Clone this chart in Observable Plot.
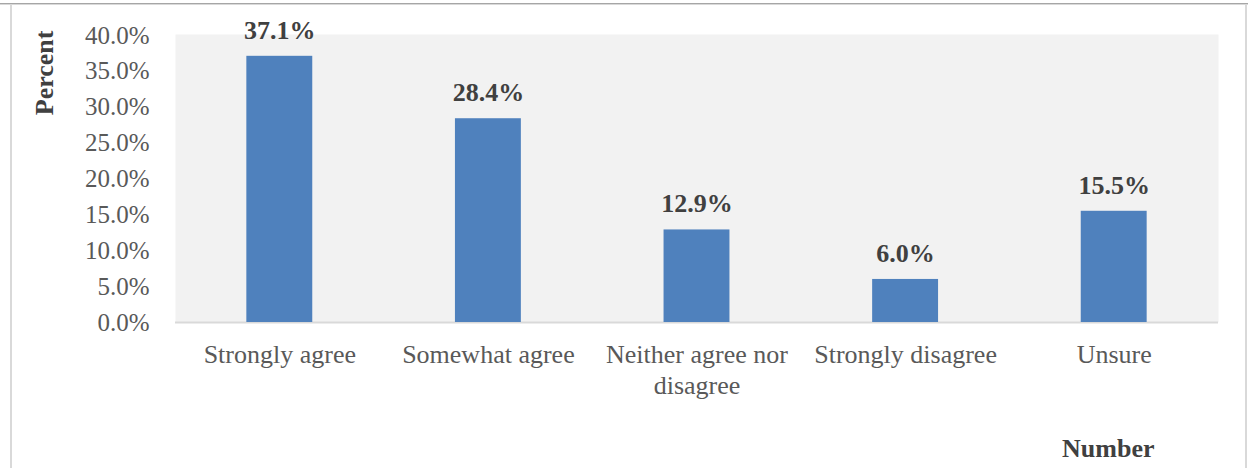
<!DOCTYPE html>
<html>
<head>
<meta charset="utf-8">
<script src="https://cdn.jsdelivr.net/npm/d3@7"></script>
<script src="https://cdn.jsdelivr.net/npm/@observablehq/plot@0.6"></script>
<style>
  html, body { margin: 0; padding: 0; background: #ffffff; }
  #wrap { position: relative; width: 1248px; height: 468px; overflow: hidden; }
  #wrap svg { position: absolute; left: 0; top: 0; }
  .bl { position: absolute; }
</style>
</head>
<body>
<div id="wrap">
  <div class="bl" style="left:0;top:3px;width:1248px;height:1px;background:#a6a6a6"></div>
  <div class="bl" style="left:0;top:4px;width:1248px;height:1px;background:#d9d9d9"></div>
  <div class="bl" style="left:10px;top:4px;width:2px;height:464px;background:#d9d9d9"></div>
  <div class="bl" style="left:1245px;top:4px;width:2px;height:464px;background:#d9d9d9"></div>
</div>
<script>
const categories = ["Strongly agree", "Somewhat agree", "Neither agree nor disagree", "Strongly disagree", "Unsure"];
const tickLabels = ["Strongly agree", "Somewhat agree", "Neither agree nor\ndisagree", "Strongly disagree", "Unsure"];
const percents = [37.1, 28.4, 12.9, 6.0, 15.5];
const yTicks = [0, 5, 10, 15, 20, 25, 30, 35, 40];
const yTitle = "Percent";
const xTitle = "Number";

const data = categories.map((c, i) => ({category: c, value: percents[i]}));
const labelOf = new Map(categories.map((c, i) => [c, tickLabels[i]]));
const serif = "'Liberation Serif', 'Times New Roman', serif";

const chart = Plot.plot({
  width: 1248,
  height: 468,
  marginLeft: 175,
  marginRight: 30,
  marginTop: 35,
  marginBottom: 146,
  style: {fontFamily: serif, fontSize: "26px", color: "#595959", background: "transparent"},
  x: {domain: categories, paddingInner: 0.684, paddingOuter: 0.342, round: false},
  y: {domain: [0, 40]},
  marks: [
    Plot.frame({fill: "#f2f2f2", stroke: null, insetTop: -1}),
    Plot.ruleY([0], {stroke: "#d9d9d9", strokeWidth: 2}),
    Plot.barY(data, {x: "category", y: "value", fill: "#4f81bd"}),
    Plot.text(data, {
      x: "category", y: "value",
      text: d => d.value.toFixed(1) + "%",
      lineAnchor: "bottom", dy: -17.5,
      fontWeight: "bold", fontSize: 26, fill: "#404040"
    }),
    Plot.axisY({
      ticks: yTicks, tickFormat: d => d.toFixed(1) + "%",
      tickSize: 0, tickPadding: 26, fontSize: 25, color: "#595959", label: null
    }),
    Plot.axisX({
      tickFormat: d => labelOf.get(d),
      tickSize: 0, tickPadding: 19, fontSize: 26, lineHeight: 1.19,
      color: "#595959", label: null
    }),
    Plot.text([yTitle], {
      frameAnchor: "top-left", text: d => d, rotate: -90,
      textAnchor: "end", lineAnchor: "bottom",
      dx: -123, dy: -5,
      fontWeight: "bold", fontSize: 26, fill: "#404040"
    }),
    Plot.text([xTitle], {
      frameAnchor: "bottom-right", text: d => d,
      textAnchor: "end", lineAnchor: "bottom",
      dx: -64, dy: 134.7,
      fontWeight: "bold", fontSize: 26, fill: "#404040"
    })
  ]
});
document.getElementById("wrap").prepend(chart);
</script>
</body>
</html>
